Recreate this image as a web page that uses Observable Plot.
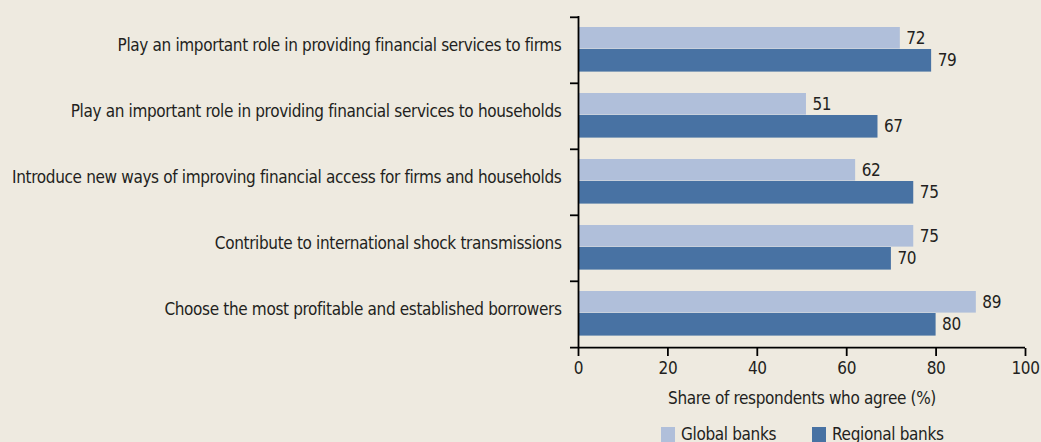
<!DOCTYPE html>
<html>
<head>
<meta charset="utf-8">
<script src="https://cdn.jsdelivr.net/npm/d3@7"></script>
<script src="https://cdn.jsdelivr.net/npm/@observablehq/plot@0.6"></script>
<style>
  html, body { margin: 0; padding: 0; background: #EEEAE0; }
  body { width: 1041px; height: 442px; overflow: hidden; font-family: "Liberation Sans Narrow", "DejaVu Sans Condensed", sans-serif; color: #231f20; }
  svg text { letter-spacing: -0.35px; }
  #legend { display: flex; gap: 36px; margin-left: 661px; margin-top: 4px; font-size: 17px; line-height: 20px; letter-spacing: -0.35px; }
  #legend span.item { display: flex; align-items: center; gap: 6px; }
  #legend span.sw { display: inline-block; width: 14px; height: 15px; }
</style>
</head>
<body>
<div id="chart"></div>
<div id="legend"></div>
<script>
const categories = [
  "Play an important role in providing financial services to firms",
  "Play an important role in providing financial services to households",
  "Introduce new ways of improving financial access for firms and households",
  "Contribute to international shock transmissions",
  "Choose the most profitable and established borrowers"
];
const series = ["Global banks", "Regional banks"];
const globalValues = [72, 51, 62, 75, 89];
const regionalValues = [79, 67, 75, 70, 80];
const xTicks = [0, 20, 40, 60, 80, 100];
const colors = ["#B0BFDA", "#4872A3"];
const xLabel = "Share of respondents who agree (%)";

const globalData = categories.map((c, i) => ({category: c, series: series[0], value: globalValues[i]}));
const regionalData = categories.map((c, i) => ({category: c, series: series[1], value: regionalValues[i]}));

const H = 420, mt = 16, mb = 72;
const band = (H - mt - mb) / categories.length;
const pxPerUnit = (1041 - 578 - 16) / 100;

const chart = Plot.plot({
  width: 1041,
  height: H,
  marginLeft: 578,
  marginRight: 16,
  marginTop: mt,
  marginBottom: mb,
  style: {background: "transparent", fontFamily: "'Liberation Sans Narrow', 'DejaVu Sans Condensed', sans-serif", fontSize: "17px", color: "#231f20"},
  x: {domain: [0, 100]},
  y: {domain: categories, padding: 0},
  color: {domain: series, range: colors},
  marks: [
    Plot.barX(globalData, {y: "category", x: "value", fill: "series", insetTop: 10, insetBottom: band - 32}),
    Plot.barX(regionalData, {y: "category", x: "value", fill: "series", insetTop: 32, insetBottom: band - 55}),
    Plot.text(globalData, {y: "category", x: "value", text: d => String(d.value), dx: 6, dy: 10 + 11 - band / 2, textAnchor: "start", fill: "#231f20"}),
    Plot.text(regionalData, {y: "category", x: "value", text: d => String(d.value), dx: 6, dy: 32 + 11.5 - band / 2, textAnchor: "start", fill: "#231f20"}),
    Plot.axisY({tickSize: 0, tickPadding: 17, dy: -5, label: null, fontSize: "17px"}),
    Plot.ruleY(categories, {y: d => d, x1: -8 / pxPerUnit, x2: 0, dy: -band / 2, stroke: "#000", strokeWidth: 1.8}),
    Plot.ruleY(categories.slice(-1), {y: d => d, x1: -8 / pxPerUnit, x2: 100, dy: band / 2, stroke: "#000", strokeWidth: 1.8}),
    Plot.ruleX([0], {stroke: "#000", strokeWidth: 1.8}),
    Plot.axisX({ticks: xTicks, tickSize: 8, tickPadding: 5, strokeWidth: 1.8, stroke: "#000", label: xLabel, labelAnchor: "center", labelArrow: "none", labelOffset: 55, fontSize: "17px"})
  ]
});
document.getElementById("chart").appendChild(chart);

const legend = document.getElementById("legend");
series.forEach((s, i) => {
  const item = document.createElement("span");
  item.className = "item";
  const sw = document.createElement("span");
  sw.className = "sw";
  sw.style.background = colors[i];
  item.appendChild(sw);
  item.appendChild(document.createTextNode(s));
  legend.appendChild(item);
});
</script>
</body>
</html>
